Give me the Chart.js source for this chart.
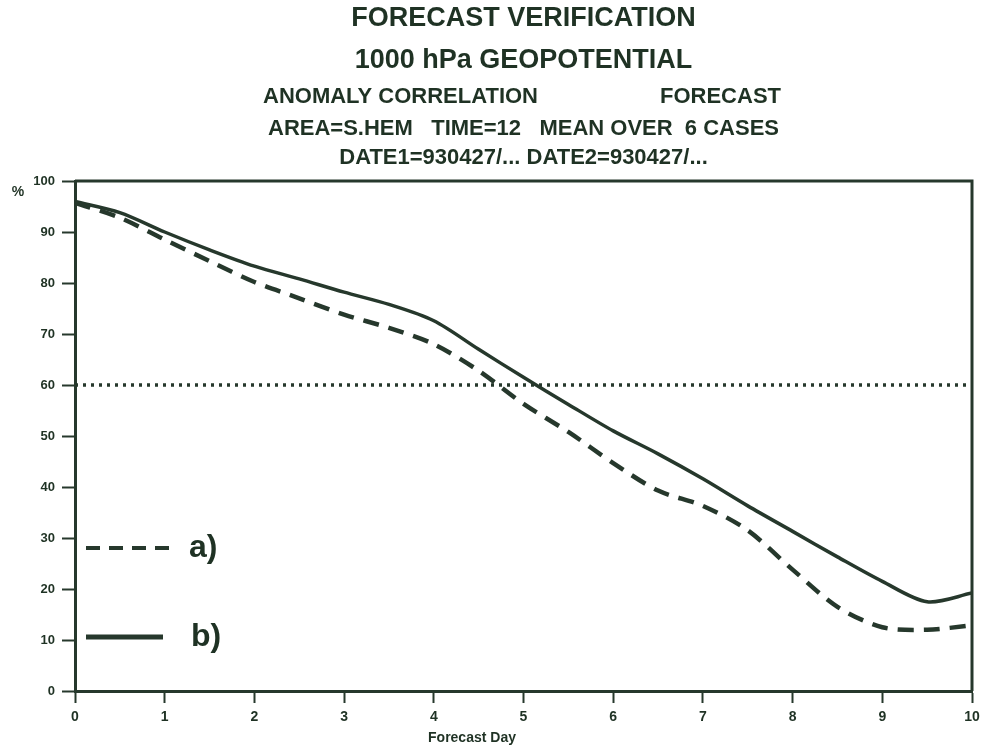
<!DOCTYPE html>
<html>
<head>
<meta charset="utf-8">
<script src="https://cdn.jsdelivr.net/npm/chart.js@4"></script>
<style>
html,body{margin:0;padding:0;background:#fff;}
#wrap{width:982px;height:749px;}
</style>
</head>
<body>
<div id="wrap"><canvas id="c" width="982" height="749"></canvas></div>
<script>
// Forecast day (x) and anomaly correlation (%) values
const forecastDays = [0,0.5,1,1.5,2,2.5,3,3.5,4,4.5,5,5.5,6,6.5,7,7.5,8,8.5,9,9.5,10];
const seriesA = [95.7,92.8,88.5,84.3,80.2,77.0,73.8,71.2,68.0,62.8,56.3,50.8,44.7,39.3,36.3,31.5,23.8,16.5,12.5,12.0,12.9];
const seriesB = [96.0,93.8,90.0,86.5,83.3,80.8,78.2,75.8,72.6,67.0,61.5,56.2,51.0,46.5,41.6,36.3,31.3,26.3,21.5,17.5,19.2];
const thresholdDays = [0,10];
const thresholdValues = [60,60];
const xTicks = [0,1,2,3,4,5,6,7,8,9,10];
const yTicks = [0,10,20,30,40,50,60,70,80,90,100];
const titleLines = [
  "FORECAST VERIFICATION",
  "1000 hPa GEOPOTENTIAL"
];
const subLine3Left = "ANOMALY CORRELATION";
const subLine3Right = "FORECAST";
const subLine4 = "AREA=S.HEM   TIME=12   MEAN OVER  6 CASES";
const subLine5 = "DATE1=930427/... DATE2=930427/...";
const xAxisTitle = "Forecast Day";
const yAxisUnit = "%";
const legendLabels = ["a)", "b)"];

const INK = "#1f3224";
const LINE = "#26382c";
const FONT = "'Liberation Sans', Arial, Helvetica, sans-serif";

const toXY = (xs, ys) => xs.map((x, i) => ({x: x, y: ys[i]}));

const decor = {
  id: 'decor',
  afterDraw(chart) {
    const ctx = chart.ctx;
    const a = chart.chartArea;
    const cx = (a.left + a.right) / 2;
    ctx.save();
    // frame top/right
    ctx.strokeStyle = LINE;
    ctx.lineWidth = 3;
    ctx.beginPath();
    ctx.moveTo(a.left, a.top);
    ctx.lineTo(a.right, a.top);
    ctx.lineTo(a.right, a.bottom);
    ctx.stroke();
    // titles
    ctx.fillStyle = INK;
    ctx.textBaseline = 'middle';
    ctx.textAlign = 'center';
    ctx.font = "bold 27px " + FONT;
    ctx.fillText(titleLines[0], cx, 19);
    ctx.font = "bold 27px " + FONT;
    ctx.fillText(titleLines[1], cx, 61);
    ctx.font = "bold 22px " + FONT;
    ctx.textAlign = 'left';
    ctx.fillText(subLine3Left, 263, 97);
    ctx.textAlign = 'right';
    ctx.fillText(subLine3Right, 781, 97);
    ctx.textAlign = 'center';
    ctx.fillText(subLine4, cx, 129);
    ctx.fillText(subLine5, cx, 158);
    // axis labels
    ctx.font = "bold 14px " + FONT;
    ctx.fillText(xAxisTitle, 472, 738);
    ctx.font = "bold 14px " + FONT;
    ctx.fillText(yAxisUnit, 18, 192);
    // legend
    const yA = 548, yB = 637;
    ctx.strokeStyle = LINE;
    ctx.lineWidth = 4;
    ctx.setLineDash([14, 9]);
    ctx.beginPath();
    ctx.moveTo(a.left + 11, yA);
    ctx.lineTo(a.left + 98, yA);
    ctx.stroke();
    ctx.setLineDash([]);
    ctx.lineWidth = 5;
    ctx.beginPath();
    ctx.moveTo(a.left + 11, yB);
    ctx.lineTo(a.left + 88, yB);
    ctx.stroke();
    ctx.font = "bold 32px " + FONT;
    ctx.textAlign = 'left';
    ctx.fillText(legendLabels[0], a.left + 114, yA);
    ctx.fillText(legendLabels[1], a.left + 116, yB);
    ctx.restore();
  }
};

new Chart(document.getElementById('c'), {
  type: 'line',
  data: {
    datasets: [
      {
        label: 'a)',
        data: toXY(forecastDays, seriesA),
        borderColor: LINE,
        borderWidth: 4.5,
        borderDash: [16, 10],
        pointRadius: 0,
        tension: 0.3,
        fill: false
      },
      {
        label: 'b)',
        data: toXY(forecastDays, seriesB),
        borderColor: LINE,
        borderWidth: 3.5,
        pointRadius: 0,
        tension: 0.3,
        fill: false
      },
      {
        label: '60%',
        data: toXY(thresholdDays, thresholdValues),
        borderColor: LINE,
        borderWidth: 3.5,
        borderDash: [3, 5],
        borderCapStyle: 'butt',
        pointRadius: 0,
        tension: 0,
        fill: false
      }
    ]
  },
  options: {
    responsive: false,
    animation: false,
    devicePixelRatio: 1,
    layout: {padding: {top: 181, right: 10, left: 0, bottom: 0}},
    plugins: {legend: {display: false}, title: {display: false}, tooltip: {enabled: false}},
    scales: {
      x: {
        type: 'linear',
        min: 0, max: 10,
        afterFit: s => { s.height = 58; s.paddingRight = 0; s.paddingLeft = 0; },
        afterBuildTicks: s => { s.ticks = xTicks.map(v => ({value: v})); },
        grid: {drawOnChartArea: false, drawTicks: true, tickLength: 12, tickWidth: 2, tickColor: LINE},
        border: {display: true, color: LINE, width: 3},
        ticks: {color: INK, font: {family: FONT, size: 14, weight: 'bold'}, padding: 6, maxRotation: 0}
      },
      y: {
        min: 0, max: 100,
        afterFit: s => { s.width = 75; s.paddingTop = 0; s.paddingBottom = 0; },
        afterBuildTicks: s => { s.ticks = yTicks.map(v => ({value: v})); },
        grid: {drawOnChartArea: false, drawTicks: true, tickLength: 13, tickWidth: 2, tickColor: LINE},
        border: {display: true, color: LINE, width: 3},
        ticks: {color: INK, font: {family: FONT, size: 13, weight: 'bold'}, padding: 7}
      }
    }
  },
  plugins: [decor]
});
</script>
</body>
</html>
